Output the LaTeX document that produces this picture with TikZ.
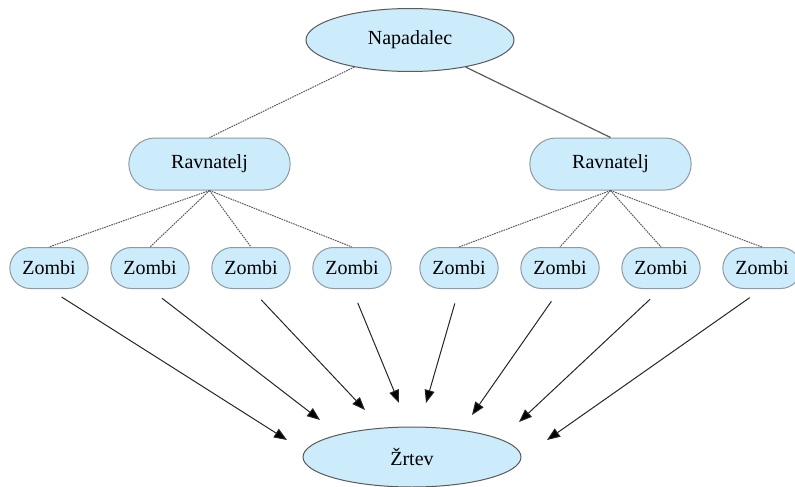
\documentclass[tikz,border=0pt]{standalone}
\usepackage{fontspec}
\setmainfont{Liberation Serif}
\usetikzlibrary{shapes.geometric,shapes.misc,arrows.meta}

\definecolor{nodefill}{HTML}{CCEBFB}
\definecolor{nodeline}{HTML}{8E9AA2}
\definecolor{linkgray}{HTML}{5A5A5A}

\tikzset{
    label font/.style={font=\fontsize{20}{24}\selectfont},
    boss/.style={ellipse,solid,draw=linkgray,fill=nodefill,line width=1pt,
        minimum width=208pt,minimum height=63pt,label font},
    chief/.style={rounded rectangle,solid,draw=nodeline,fill=nodefill,line width=1pt,
        minimum width=168pt,minimum height=52pt,label font},
    zombie/.style={rounded rectangle,solid,draw=nodeline,fill=nodefill,line width=1pt,
        minimum width=85pt,minimum height=41pt,label font},
    dotlink/.style={draw=linkgray,line width=1pt,dash pattern=on 1.6pt off 0.9pt},
    solidlink/.style={draw=linkgray,line width=1.2pt},
    hit/.style={draw=black!85,line width=1pt,
        -{Triangle[length=13pt,width=10pt,fill=black]},shorten <=15pt}
}

\begin{document}
\begin{tikzpicture}[
            level 1/.style={level distance=124pt,sibling distance=401pt,
                edge from parent path={(\tikzparentnode) -- (\tikzchildnode.north)}},
            level 2/.style={level distance=104pt,sibling distance=101pt,
                edge from parent/.style={dotlink},
                edge from parent path={(\tikzparentnode.south) -- (\tikzchildnode.north)}}
        ]
        \useasboundingbox (0pt,0pt) rectangle (795pt,-487pt);

        \node[boss] (nap) at (410pt,-40pt) {Napadalec}
        child {
                node[chief] (rav1) {Ravnatelj}
                child[xshift=-9pt] {node[zombie] (z1) {Zombi}}
                child[xshift=-9pt] {node[zombie] (z2) {Zombi}}
                child[xshift=-9pt] {node[zombie] (z3) {Zombi}}
                child[xshift=-9pt] {node[zombie] (z4) {Zombi}}
                edge from parent[dotlink]
            }
        child {
                node[chief] (rav2) {Ravnatelj}
                child {node[zombie] (z5) {Zombi}}
                child {node[zombie] (z6) {Zombi}}
                child {node[zombie] (z7) {Zombi}}
                child {node[zombie] (z8) {Zombi}}
                edge from parent[solidlink]
            };

        \node[boss,minimum width=218pt,minimum height=60pt] (zrt) at (412pt,-457pt) {Žrtev};

        % arrow ends above the victim
        \foreach \i/\x/\y in {1/287/440,2/320/420,3/365/410,4/399/403,
                5/426/403,6/472/415,7/519/422,8/547/440} {
            \coordinate (t\i) at (\x pt,-\y pt);
            \draw[hit] (z\i.south) -- (t\i);
        }
    \end{tikzpicture}
\end{document}
